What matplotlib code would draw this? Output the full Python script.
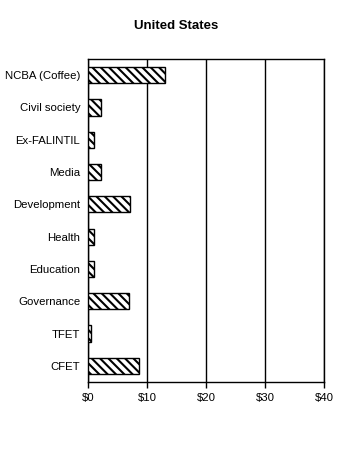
import matplotlib
matplotlib.use("Agg")
import matplotlib.pyplot as plt

categories = ["NCBA (Coffee)", "Civil society", "Ex-FALINTIL", "Media", "Development",
              "Health", "Education", "Governance", "TFET", "CFET"]
values = [13.0, 2.2, 1.1, 2.2, 7.2, 1.1, 1.1, 7.0, 0.55, 8.6]
xticks = [0, 10, 20, 30, 40]
xlabels = ["$0", "$10", "$20", "$30", "$40"]

plt.rcParams['font.family'] = ['Liberation Sans', 'DejaVu Sans']
plt.rcParams['hatch.linewidth'] = 1.5

fig = plt.figure(figsize=(3.52, 4.49), dpi=100)
ax = fig.add_axes([0.25, 0.1492, 0.6705, 0.7194])

pos = list(range(len(categories)))[::-1]
ax.barh(pos, values, height=0.5, color='white', edgecolor='black',
        hatch='\\\\\\\\', linewidth=1.0, zorder=3)

ax.set_xlim(0, 40)
ax.set_ylim(-0.5, len(categories) - 0.5)
ax.set_xticks(xticks)
ax.set_xticklabels(xlabels, fontsize=8.2)
ax.set_yticks(pos)
ax.set_yticklabels(categories, fontsize=8.2)
ax.tick_params(axis='y', length=0, pad=5.5)
ax.tick_params(axis='x', length=4, width=1, direction='out', pad=4)
ax.grid(axis='x', color='black', linewidth=1.0, zorder=0)
for s in ax.spines.values():
    s.set_linewidth(1.0)

fig.text(0.5, 0.943, "United States", ha='center', va='center',
         fontsize=9.5, fontweight='bold')

fig.savefig("out.png", dpi=100)
